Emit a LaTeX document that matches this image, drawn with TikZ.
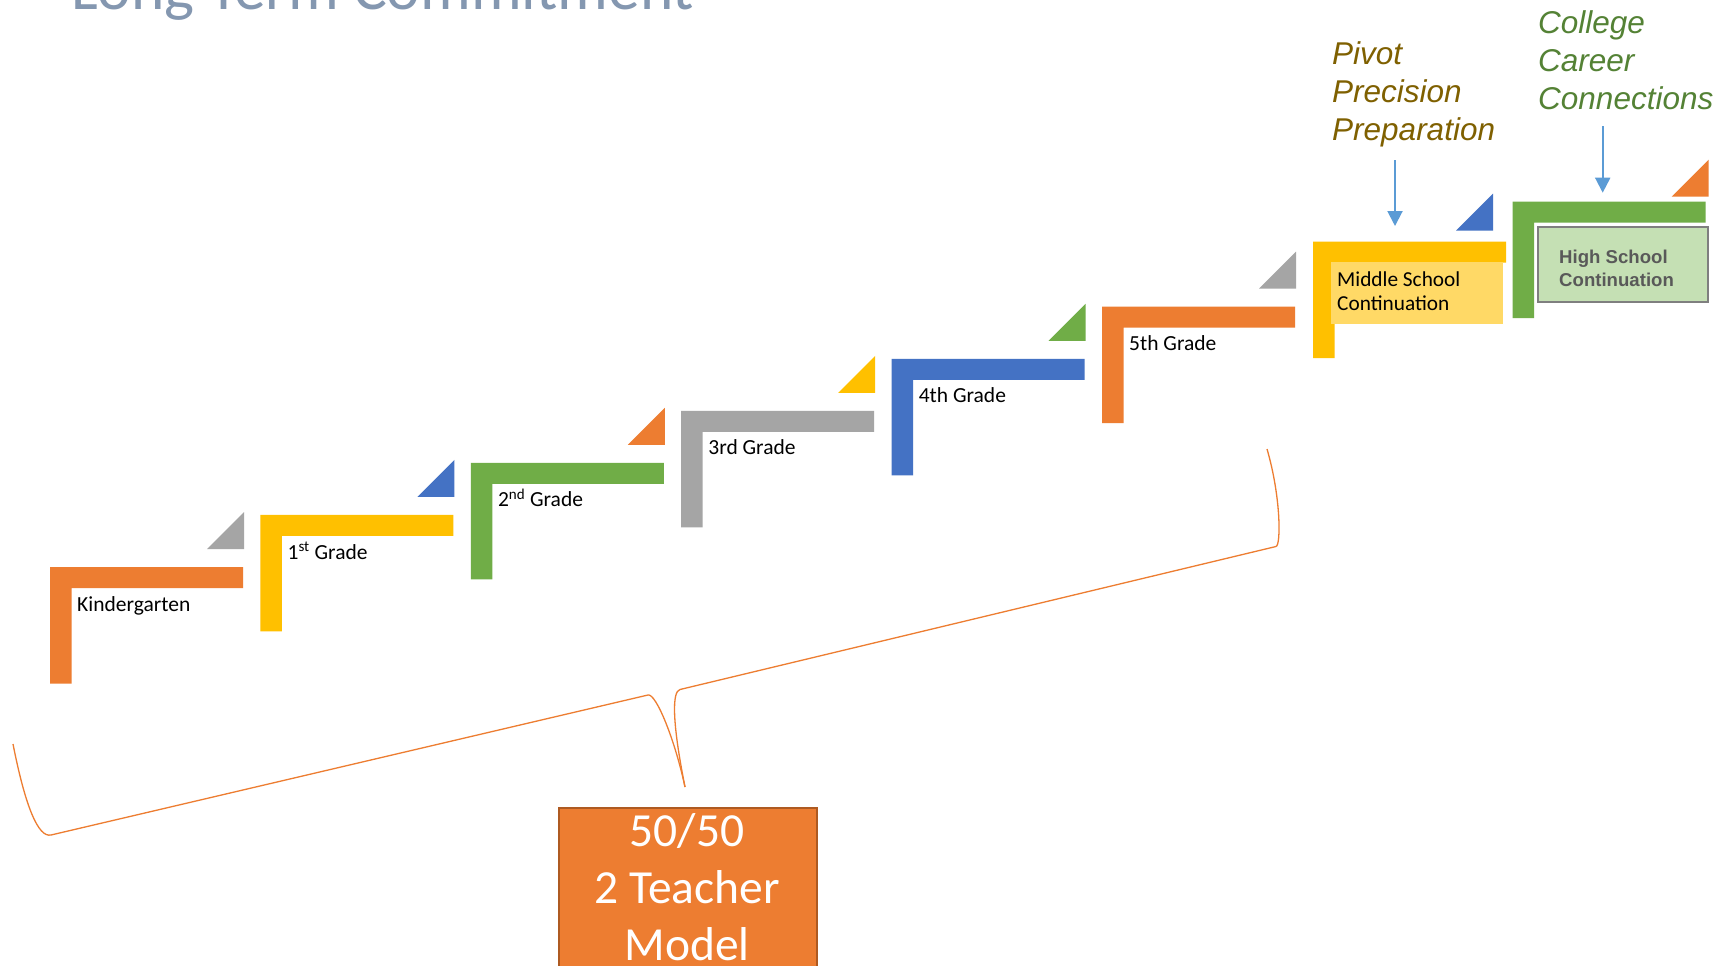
\documentclass[tikz,border=0pt]{standalone}
\usepackage{fontspec}
\setmainfont{Carlito}
\newfontfamily\arialf{Liberation Sans}
\usetikzlibrary{arrows.meta}
\definecolor{cOrange}{HTML}{ED7D31}
\definecolor{cYellow}{HTML}{FFC000}
\definecolor{cGreen}{HTML}{70AD47}
\definecolor{cGray}{HTML}{A5A5A5}
\definecolor{cBlue}{HTML}{4472C4}
\definecolor{cLtYellow}{HTML}{FFD966}
\definecolor{cLtGreen}{HTML}{C5E0B4}
\definecolor{cArrow}{HTML}{5B9BD5}
\definecolor{cGold}{HTML}{7F6000}
\definecolor{cDkGreen}{HTML}{548235}
\definecolor{cTitle}{HTML}{8497B0}
\definecolor{cBoxEdge}{HTML}{AE5A21}
\definecolor{cHSText}{HTML}{595959}
\definecolor{cHSEdge}{HTML}{7F7F7F}
% L-shaped step: top-left x, y, colour
\newcommand\stepL[3]{\fill[#3] (#1,#2) -- ++(193,0) -- ++(0,21) -- ++(-171.5,0) -- ++(0,95.5) -- ++(-21.5,0) -- cycle;}
% corner triangle: bottom-right x, y, colour
\newcommand\stepT[3]{\fill[#3] (#1,#2) -- ++(0,-37) -- ++(-37,37) -- cycle;}
\begin{document}
\begin{tikzpicture}[x=1pt,y=-1pt,
  gradelabel/.style={anchor=base west, inner sep=0pt, text=black, font=\fontsize{21.5}{25}\selectfont},
  sidenote/.style={anchor=base west, inner sep=0pt, font=\arialf\itshape\fontsize{31.5}{38}\selectfont},
  pointer/.style={cArrow, line width=2pt, -{Triangle[width=15pt,length=15pt]}},
  bracepath/.style={cOrange, line width=1.3pt}]
\useasboundingbox (0,0) rectangle (1721,966);
\clip (0,0) rectangle (1721,966);
\fill[white] (0,0) rectangle (1721,966);

% title (cut off at the top)
\node[name=title, anchor=base west, inner sep=0pt, text=cTitle, font=\fontsize{63.5}{70}\selectfont] at (71,10) {Long Term Commitment};

% grade steps
\foreach \i/\lc/\tc in {0/cOrange/cGray,1/cYellow/cBlue,2/cGreen/cOrange,3/cGray/cYellow,4/cBlue/cGreen,5/cOrange/cGray}{
  \pgfmathsetmacro\gx{50+210.4*\i}
  \pgfmathsetmacro\gy{567-52.06*\i}
  \stepL{\gx}{\gy}{\lc}
  \stepT{\gx+194}{\gy-18}{\tc}
}
\node[gradelabel, name=gk] at (77,611) {Kindergarten};
\node[gradelabel, name=g1] at (287.4,559) {1\textsuperscript{st} Grade};
\node[gradelabel, name=g2] at (497.8,506.9) {2\textsuperscript{nd} Grade};
\node[gradelabel, name=g3] at (708.2,454.8) {3rd Grade};
\node[gradelabel, name=g4] at (918.6,402.8) {4th Grade};
\node[gradelabel, name=g5] at (1129,350.7) {5th Grade};

% middle school
\stepL{1313}{241.7}{cYellow}
\fill[cLtYellow] (1331,262.3) rectangle (1503,323.7);
\stepT{1493}{230.7}{cBlue}
\node[gradelabel, name=ms, font=\fontsize{21.3}{25}\selectfont] at (1337,286.7) {\begin{tabular}[t]{@{}l@{}}Middle School\\[-1.7pt]Continuation\end{tabular}};

% high school
\stepL{1512.7}{201.7}{cGreen}
\filldraw[fill=cLtGreen, draw=cHSEdge, line width=2pt] (1538.3,226.7) rectangle (1707.7,302);
\stepT{1708.7}{196.7}{cOrange}
\node[name=hs, anchor=base west, inner sep=0pt, text=cHSText, font=\arialf\bfseries\fontsize{18.6}{23.4}\selectfont] at (1559,263.3) {\begin{tabular}[t]{@{}l@{}}High School\\Continuation\end{tabular}};

% side notes with arrows
\node[sidenote, name=ppp, text=cGold] at (1332,64) {\begin{tabular}[t]{@{}l@{}}Pivot\\Precision\\Preparation\end{tabular}};
\node[sidenote, name=ccc, text=cDkGreen] at (1538,33.3) {\begin{tabular}[t]{@{}l@{}}College\\Career\\Connections\end{tabular}};
\coordinate (a1s) at (1395,160);
\coordinate (a1e) at (1395,226);
\coordinate (a2s) at (1602.7,126);
\coordinate (a2e) at (1602.7,192.7);
\draw[pointer] (a1s) -- (a1e);
\draw[pointer] (a2s) -- (a2e);

% brace
\coordinate (bl) at (13,744);
\coordinate (bt) at (685,787);
\coordinate (br) at (1267,449);
\draw[bracepath] (bl) .. controls (25,805) and (38,838) .. (51,835) -- (648,695) .. controls (656,693) and (675,740) .. (bt);
\draw[bracepath] (bt) .. controls (672,722) and (672,691.4) .. (680,689.5) -- (1276,546.5) .. controls (1281,545.3) and (1281,497) .. (br);

% model box
\node[name=model, anchor=north west, inner sep=0pt, fill=cOrange, draw=cBoxEdge, line width=2pt, minimum width=257.7pt, minimum height=200pt] at (558.3,806.7) {};
\node[name=modeltext, anchor=base, inner sep=0pt, text=white, font=\fontsize{47.5}{56.7}\selectfont] at (687,846.7) {\begin{tabular}[t]{@{}c@{}}50/50\\2 Teacher\\Model\end{tabular}};
\end{tikzpicture}
\end{document}
